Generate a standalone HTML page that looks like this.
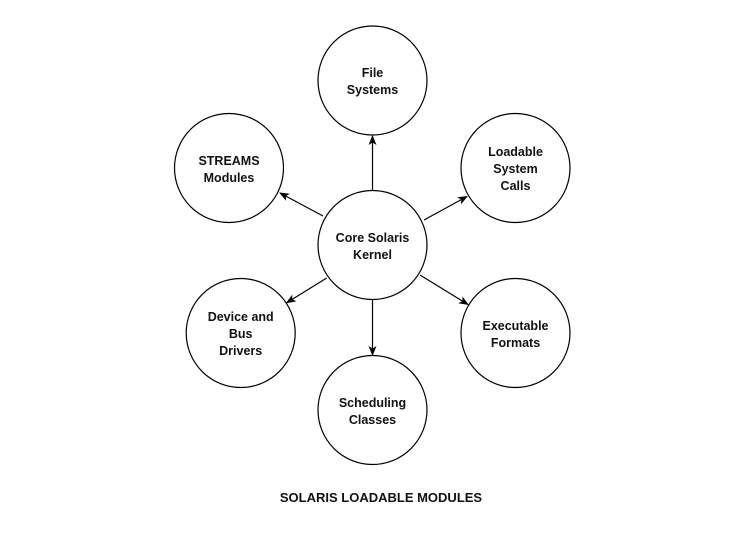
<!DOCTYPE html>
<html><head><style>
html,body{margin:0;padding:0;background:#fff;}
svg text{font-family:"Liberation Sans",Arial,sans-serif;font-weight:bold;font-size:12.5px;fill:#111;text-anchor:middle;}
</style></head><body>
<svg width="729" height="540" viewBox="0 0 729 540" xmlns="http://www.w3.org/2000/svg">
<defs><marker id="a" markerWidth="10" markerHeight="10" refX="9" refY="5" orient="auto" markerUnits="userSpaceOnUse"><path d="M0,1 L10,5 L0,9 L2.5,5 Z" fill="#000"/></marker></defs>
<g fill="#fff" stroke="#000" stroke-width="1.2">
<circle cx="372.5" cy="80.5" r="54.5"/>
<circle cx="229" cy="168" r="54.5"/>
<circle cx="515.5" cy="168" r="54.5"/>
<circle cx="372.5" cy="245" r="54.5"/>
<circle cx="240.7" cy="333" r="54.5"/>
<circle cx="515.5" cy="333" r="54.5"/>
<circle cx="372.5" cy="410" r="54.5"/>
</g>
<g stroke="#000" stroke-width="1.2" marker-end="url(#a)">
<line x1="372.5" y1="190" x2="372.5" y2="136"/>
<line x1="323" y1="216" x2="280" y2="193"/>
<line x1="424" y1="220" x2="467" y2="196.5"/>
<line x1="326.7" y1="278" x2="286.7" y2="302.7"/>
<line x1="420" y1="275" x2="468" y2="304.5"/>
<line x1="372.5" y1="299.5" x2="372.5" y2="355"/>
</g>
<text x="372.5" y="77">File</text><text x="372.5" y="94">Systems</text>
<text x="229" y="165">STREAMS</text><text x="229" y="182">Modules</text>
<text x="515.5" y="156">Loadable</text><text x="515.5" y="173">System</text><text x="515.5" y="190">Calls</text>
<text x="372.5" y="242">Core Solaris</text><text x="372.5" y="259">Kernel</text>
<text x="240.7" y="321">Device and</text><text x="240.7" y="338">Bus</text><text x="240.7" y="355">Drivers</text>
<text x="515.5" y="330">Executable</text><text x="515.5" y="347">Formats</text>
<text x="372.5" y="407">Scheduling</text><text x="372.5" y="424">Classes</text>
<text x="381" y="502" style="font-size:13px">SOLARIS LOADABLE MODULES</text>
</svg>
</body></html>
